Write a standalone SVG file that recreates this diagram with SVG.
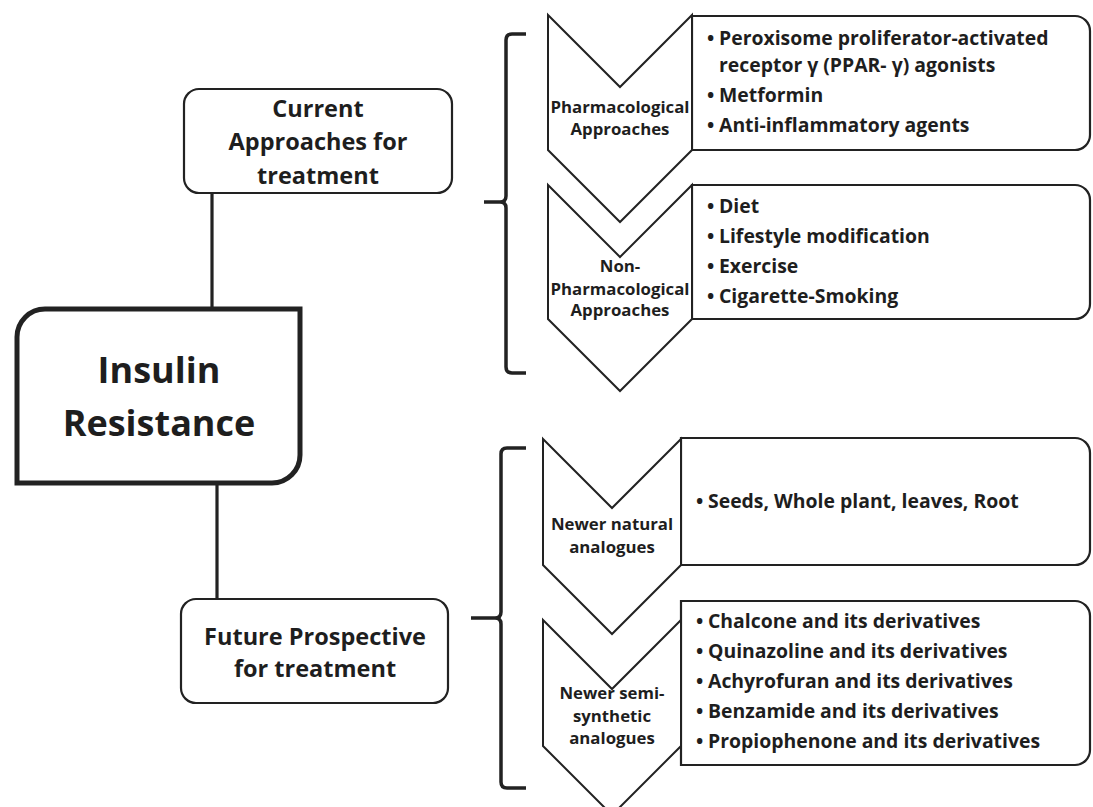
<svg xmlns="http://www.w3.org/2000/svg" width="1093" height="807" viewBox="0 0 1093 807">
<style>
  .box{fill:#fff;stroke:#222;stroke-width:2.2}
  .chev{fill:#fff;stroke:#222;stroke-width:2}
  .conn{fill:none;stroke:#222;stroke-width:3.2}
  .brk{fill:none;stroke:#222;stroke-width:3.5}
  text{font-family:"Open Sans","Liberation Sans",sans-serif;font-weight:bold;fill:#1e1e1e}
  .lbl{font-size:23.5px;text-anchor:middle}
  .big{font-size:36px;text-anchor:middle}
  .ch{font-size:16.8px;text-anchor:middle}
  .it{font-size:19.4px}
</style>
<rect width="1093" height="807" fill="#fff"/>
<g id="connectors">
  <line class="conn" x1="212" y1="193" x2="212" y2="308"/>
  <line class="conn" x1="217" y1="484" x2="217" y2="600"/>
  <path class="brk" d="M526,34 H512 Q506,34 506,40 V196 Q506,202 500,202 H484 M500,202 Q506,202 506,208 V367 Q506,373 512,373 H526"/>
  <path class="brk" d="M526,448 H507 Q501,448 501,454 V612 Q501,618 495,618 H471 M495,618 Q501,618 501,624 V782 Q501,788 507,788 H526"/>
</g>
<g id="current">
  <rect class="box" x="184" y="89" width="268" height="104" rx="15"/>
  <text class="lbl" x="318" y="117">Current</text>
  <text class="lbl" x="318" y="150">Approaches for</text>
  <text class="lbl" x="318" y="184">treatment</text>
</g>
<g id="insulin">
  <path d="M17,337 A28,28 0 0 1 45,309 H300 V455 A28,28 0 0 1 272,483 H17 Z" fill="#fff" stroke="#222" stroke-width="5"/>
  <text class="big" x="159" y="383">Insulin</text>
  <text class="big" x="159" y="436">Resistance</text>
</g>
<g id="future">
  <rect class="box" x="181" y="599" width="267" height="104" rx="15"/>
  <text class="lbl" x="315" y="645">Future Prospective</text>
  <text class="lbl" x="315" y="677">for treatment</text>
</g>
<g id="pharm-list">
  <path class="box" d="M692,16 H1075 A15,15 0 0 1 1090,31 V135 A15,15 0 0 1 1075,150 H692 Z"/>
  <text class="it"><tspan x="707" y="45">•</tspan><tspan x="719" y="45">Peroxisome proliferator-activated</tspan></text>
  <text class="it" x="719" y="72">receptor γ (PPAR- γ) agonists</text>
  <text class="it"><tspan x="707" y="102">•</tspan><tspan x="719" y="102">Metformin</tspan></text>
  <text class="it"><tspan x="707" y="132">•</tspan><tspan x="719" y="132">Anti-inflammatory agents</tspan></text>
</g>
<g id="nonpharm-list">
  <path class="box" d="M692,185 H1075 A15,15 0 0 1 1090,200 V304 A15,15 0 0 1 1075,319 H692 Z"/>
  <text class="it"><tspan x="707" y="213">•</tspan><tspan x="719" y="213">Diet</tspan></text>
  <text class="it"><tspan x="707" y="243">•</tspan><tspan x="719" y="243">Lifestyle modification</tspan></text>
  <text class="it"><tspan x="707" y="273">•</tspan><tspan x="719" y="273">Exercise</tspan></text>
  <text class="it"><tspan x="707" y="303">•</tspan><tspan x="719" y="303">Cigarette-Smoking</tspan></text>
</g>
<g id="natural-list">
  <path class="box" d="M681,438 H1075 A15,15 0 0 1 1090,453 V550 A15,15 0 0 1 1075,565 H681 Z"/>
  <text class="it"><tspan x="696" y="508">•</tspan><tspan x="708" y="508">Seeds, Whole plant, leaves, Root</tspan></text>
</g>
<g id="semisynthetic-list">
  <path class="box" d="M681,601 H1075 A15,15 0 0 1 1090,616 V750 A15,15 0 0 1 1075,765 H681 Z"/>
  <text class="it"><tspan x="696" y="628">•</tspan><tspan x="708" y="628">Chalcone and its derivatives</tspan></text>
  <text class="it"><tspan x="696" y="658">•</tspan><tspan x="708" y="658">Quinazoline and its derivatives</tspan></text>
  <text class="it"><tspan x="696" y="688">•</tspan><tspan x="708" y="688">Achyrofuran and its derivatives</tspan></text>
  <text class="it"><tspan x="696" y="718">•</tspan><tspan x="708" y="718">Benzamide and its derivatives</tspan></text>
  <text class="it"><tspan x="696" y="748">•</tspan><tspan x="708" y="748">Propiophenone and its derivatives</tspan></text>
</g>
<g id="pharm">
  <path class="chev" d="M548,15 L620,87 L692,15 L692,150 L620,222 L548,150 Z"/>
  <text class="ch" x="620" y="113">Pharmacological</text>
  <text class="ch" x="620" y="135">Approaches</text>
</g>
<g id="nonpharm">
  <path class="chev" d="M548,185 L620,257 L692,185 L692,319 L620,391 L548,319 Z"/>
  <text class="ch" x="620" y="272">Non-</text>
  <text class="ch" x="620" y="295">Pharmacological</text>
  <text class="ch" x="620" y="316">Approaches</text>
</g>
<g id="natural">
  <path class="chev" d="M543,439 L612,508 L681,439 L681,565 L612,634 L543,565 Z"/>
  <text class="ch" x="612" y="530">Newer natural</text>
  <text class="ch" x="612" y="553">analogues</text>
</g>
<g id="semisynthetic">
  <path class="chev" d="M543,620 L612,689 L681,620 L681,746 L612,815 L543,746 Z"/>
  <text class="ch" x="612" y="699">Newer semi-</text>
  <text class="ch" x="612" y="722">synthetic</text>
  <text class="ch" x="612" y="744">analogues</text>
</g>
</svg>
